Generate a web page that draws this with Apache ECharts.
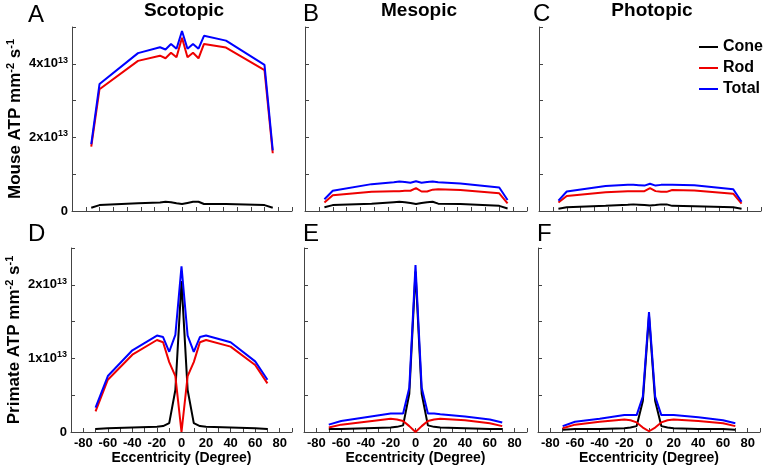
<!DOCTYPE html>
<html><head><meta charset="utf-8">
<script src="https://cdn.jsdelivr.net/npm/echarts@6/dist/echarts.min.js"></script>
<style>html,body{margin:0;padding:0;background:#fff}#c{width:763px;height:474px}</style>
</head><body><div id="c"></div>
<script>
const FONT = '"Liberation Sans", Arial, sans-serif';

// Eccentricity (degree) sample positions
const mouseEcc   = [-66, -60, -32, -16, -12, -8, -4, 0, 4, 8, 12, 16, 32, 60, 66];
const primateEcc = [-70, -60, -40, -20, -15, -10, -5, 0, 5, 10, 15, 20, 40, 60, 70];

// Values in units of 1e13 ATP mm^-2 s^-1
// Mouse, scotopic (A)
const mouseScoCone  = [0.09, 0.16, 0.21, 0.23, 0.25, 0.24, 0.21, 0.19, 0.22, 0.25, 0.25, 0.19, 0.19, 0.16, 0.09];
const mouseScoRod   = [1.75, 3.31, 4.08, 4.22, 4.15, 4.30, 4.18, 4.71, 4.18, 4.30, 4.15, 4.54, 4.44, 3.83, 1.57];
const mouseScoTotal = [1.82, 3.45, 4.29, 4.45, 4.39, 4.54, 4.41, 4.89, 4.41, 4.54, 4.41, 4.76, 4.63, 3.97, 1.65];
// Mouse, mesopic (B)
const mouseMesCone  = [0.10, 0.16, 0.20, 0.24, 0.25, 0.24, 0.22, 0.19, 0.22, 0.24, 0.25, 0.20, 0.19, 0.14, 0.07];
const mouseMesRod   = [0.23, 0.43, 0.52, 0.54, 0.54, 0.55, 0.55, 0.62, 0.53, 0.53, 0.58, 0.59, 0.57, 0.48, 0.21];
const mouseMesTotal = [0.32, 0.55, 0.73, 0.78, 0.80, 0.79, 0.77, 0.81, 0.77, 0.79, 0.80, 0.78, 0.75, 0.64, 0.30];
// Mouse, photopic (C)
const mousePhoCone  = [0.06, 0.10, 0.14, 0.17, 0.18, 0.17, 0.16, 0.15, 0.16, 0.18, 0.18, 0.14, 0.13, 0.10, 0.06];
const mousePhoRod   = [0.23, 0.41, 0.51, 0.54, 0.54, 0.54, 0.54, 0.62, 0.54, 0.52, 0.52, 0.57, 0.56, 0.47, 0.20];
const mousePhoTotal = [0.28, 0.53, 0.68, 0.71, 0.71, 0.70, 0.69, 0.74, 0.69, 0.71, 0.71, 0.71, 0.70, 0.59, 0.25];
// Primate, scotopic (D)
const primScoCone  = [0.04, 0.05, 0.06, 0.07, 0.08, 0.12, 0.57, 2.05, 0.57, 0.12, 0.08, 0.07, 0.06, 0.05, 0.04];
const primScoRod   = [0.28, 0.71, 1.05, 1.25, 1.22, 0.95, 0.76, 0.00, 0.76, 0.95, 1.22, 1.25, 1.16, 0.91, 0.66];
const primScoTotal = [0.33, 0.76, 1.11, 1.31, 1.29, 1.09, 1.32, 2.25, 1.31, 1.09, 1.29, 1.31, 1.22, 0.96, 0.71];
// Primate, mesopic (E)
const primMesCone  = [0.04, 0.04, 0.05, 0.06, 0.07, 0.09, 0.52, 2.18, 0.52, 0.09, 0.07, 0.06, 0.05, 0.04, 0.04];
const primMesRod   = [0.06, 0.10, 0.14, 0.18, 0.17, 0.15, 0.08, 0.00, 0.08, 0.15, 0.17, 0.18, 0.16, 0.12, 0.08];
const primMesTotal = [0.10, 0.15, 0.20, 0.25, 0.25, 0.25, 0.60, 2.27, 0.60, 0.25, 0.25, 0.24, 0.21, 0.17, 0.13];
// Primate, photopic (F)
const primPhoCone  = [0.03, 0.04, 0.04, 0.05, 0.06, 0.08, 0.42, 1.58, 0.42, 0.08, 0.06, 0.05, 0.04, 0.04, 0.03];
const primPhoRod   = [0.05, 0.10, 0.14, 0.17, 0.16, 0.13, 0.06, 0.01, 0.06, 0.13, 0.16, 0.17, 0.15, 0.12, 0.08];
const primPhoTotal = [0.08, 0.14, 0.18, 0.23, 0.23, 0.23, 0.48, 1.63, 0.48, 0.23, 0.23, 0.23, 0.20, 0.16, 0.12];

const seriesNames = ['Cone', 'Rod', 'Total'];
const conditionNames = ['Scotopic', 'Mesopic', 'Photopic'];
const panelLetters = ['A', 'B', 'C', 'D', 'E', 'F'];
const xLabelTicks = [-80, -60, -40, -20, 0, 20, 40, 60, 80];
const mouseYLabels = {0: '0', 2: '2x10', 4: '4x10'};
const primateYLabels = {0: '0', 1: '1x10', 2: '2x10'};
const yTitleMouse = '{t|Mouse ATP mm}{s|-2}{t| s}{s|-1}';
const yTitlePrimate = '{t|Primate ATP mm}{s|-2}{t| s}{s|-1}';
const xTitle = 'Eccentricity (Degree)';

const panels = [
  {ecc: mouseEcc, vals: [mouseScoCone, mouseScoRod, mouseScoTotal]},
  {ecc: mouseEcc, vals: [mouseMesCone, mouseMesRod, mouseMesTotal]},
  {ecc: mouseEcc, vals: [mousePhoCone, mousePhoRod, mousePhoTotal]},
  {ecc: primateEcc, vals: [primScoCone, primScoRod, primScoTotal]},
  {ecc: primateEcc, vals: [primMesCone, primMesRod, primMesTotal]},
  {ecc: primateEcc, vals: [primPhoCone, primPhoRod, primPhoTotal]}
];

const colors = ['#000000', '#ee0000', '#0000ff'];
const axisColor = '#444';
const gridLefts = [72, 305, 539];
const gridWidths = [220, 222, 222];

const grids = [], xAxes = [], yAxes = [], series = [];
for (let i = 0; i < 6; i++) {
  const row = Math.floor(i / 3), col = i % 3;
  grids.push({left: gridLefts[col] - (row ? 1 : 0), top: row ? 248 : 27, width: gridWidths[col] + (row ? 1 : 0), height: 184, containLabel: false});
  const bottom = row === 1;
  xAxes.push({
    gridIndex: i, type: 'value',
    min: bottom ? -90 : -80, max: bottom ? 90 : 80, interval: 10,
    axisLine: {onZero: false, lineStyle: {color: axisColor, width: 1}},
    axisTick: {inside: true, length: 4, lineStyle: {color: axisColor}},
    splitLine: {show: false},
    axisLabel: {
      show: bottom, margin: 5, color: '#000', fontSize: 13, fontWeight: 'bold', fontFamily: FONT,
      formatter: v => xLabelTicks.indexOf(v) >= 0 ? String(v) : ''
    },
    name: bottom ? xTitle : '', nameLocation: 'middle', nameGap: 18,
    nameTextStyle: {fontSize: 14, fontWeight: 'bold', color: '#000', fontFamily: FONT}
  });
  const labels = bottom ? primateYLabels : mouseYLabels;
  yAxes.push({
    gridIndex: i, type: 'value',
    min: 0, max: bottom ? 2.5 : 5, interval: bottom ? 0.5 : 1,
    axisLine: {show: true, onZero: false, lineStyle: {color: axisColor, width: 1}},
    axisTick: {show: true, inside: true, length: 4, lineStyle: {color: axisColor}},
    splitLine: {show: false},
    axisLabel: {
      show: col === 0, margin: 4,
      formatter: v => {
        const l = labels[v];
        if (l === undefined) return '';
        if (v === 0) return '{a|0}';
        return '{a|' + l + '}{s|13}';
      },
      rich: {
        a: {fontSize: 13, fontWeight: 'bold', color: '#000', fontFamily: FONT, lineHeight: 16},
        s: {fontSize: 9, fontWeight: 'bold', color: '#000', fontFamily: FONT, verticalAlign: 'top', lineHeight: 10}
      }
    },
    name: col === 0 ? (bottom ? yTitlePrimate : yTitleMouse) : '',
    nameLocation: 'middle', nameRotate: 90, nameGap: 47,
    nameTextStyle: {
      rich: {
        t: {fontSize: 17, fontWeight: 'bold', color: '#000', fontFamily: FONT, lineHeight: 20},
        s: {fontSize: 11, fontWeight: 'bold', color: '#000', fontFamily: FONT, verticalAlign: 'top', lineHeight: 12}
      }
    }
  });
  const p = panels[i];
  for (let s = 0; s < 3; s++) {
    series.push({
      type: 'line', name: seriesNames[s], xAxisIndex: i, yAxisIndex: i,
      data: p.ecc.map((x, k) => [x, p.vals[s][k]]),
      showSymbol: false, symbol: 'none', smooth: false,
      color: colors[s],
      lineStyle: {width: 2, color: colors[s]},
      z: 2 + s, animation: false
    });
  }
}

const graphics = [];
const letterPos = [[28, 15], [303, 14], [533, 14], [28, 234], [303, 234], [537, 234]];
panelLetters.forEach((t, k) => graphics.push({
  type: 'text', left: letterPos[k][0], top: letterPos[k][1] - 12,
  style: {text: t, font: '24px ' + FONT, fill: '#000'}
}));
const titleX = [184, 419, 652];
conditionNames.forEach((t, k) => graphics.push({
  type: 'text', x: titleX[k], y: 11,
  style: {text: t, font: 'bold 19px ' + FONT, fill: '#000', textAlign: 'center', textVerticalAlign: 'middle'}
}));

const option = {
  animation: false,
  backgroundColor: '#fff',
  grid: grids, xAxis: xAxes, yAxis: yAxes, series: series,
  legend: {
    data: seriesNames, orient: 'vertical', left: 694, top: 34,
    itemWidth: 19, itemHeight: 2, itemGap: 5, icon: 'rect',
    textStyle: {fontSize: 16, fontWeight: 'bold', color: '#000', fontFamily: FONT, lineHeight: 16},
    selectedMode: false
  },
  graphic: graphics
};
const chart = echarts.init(document.getElementById('c'), null, {renderer: 'canvas'});
chart.setOption(option);
</script></body></html>
